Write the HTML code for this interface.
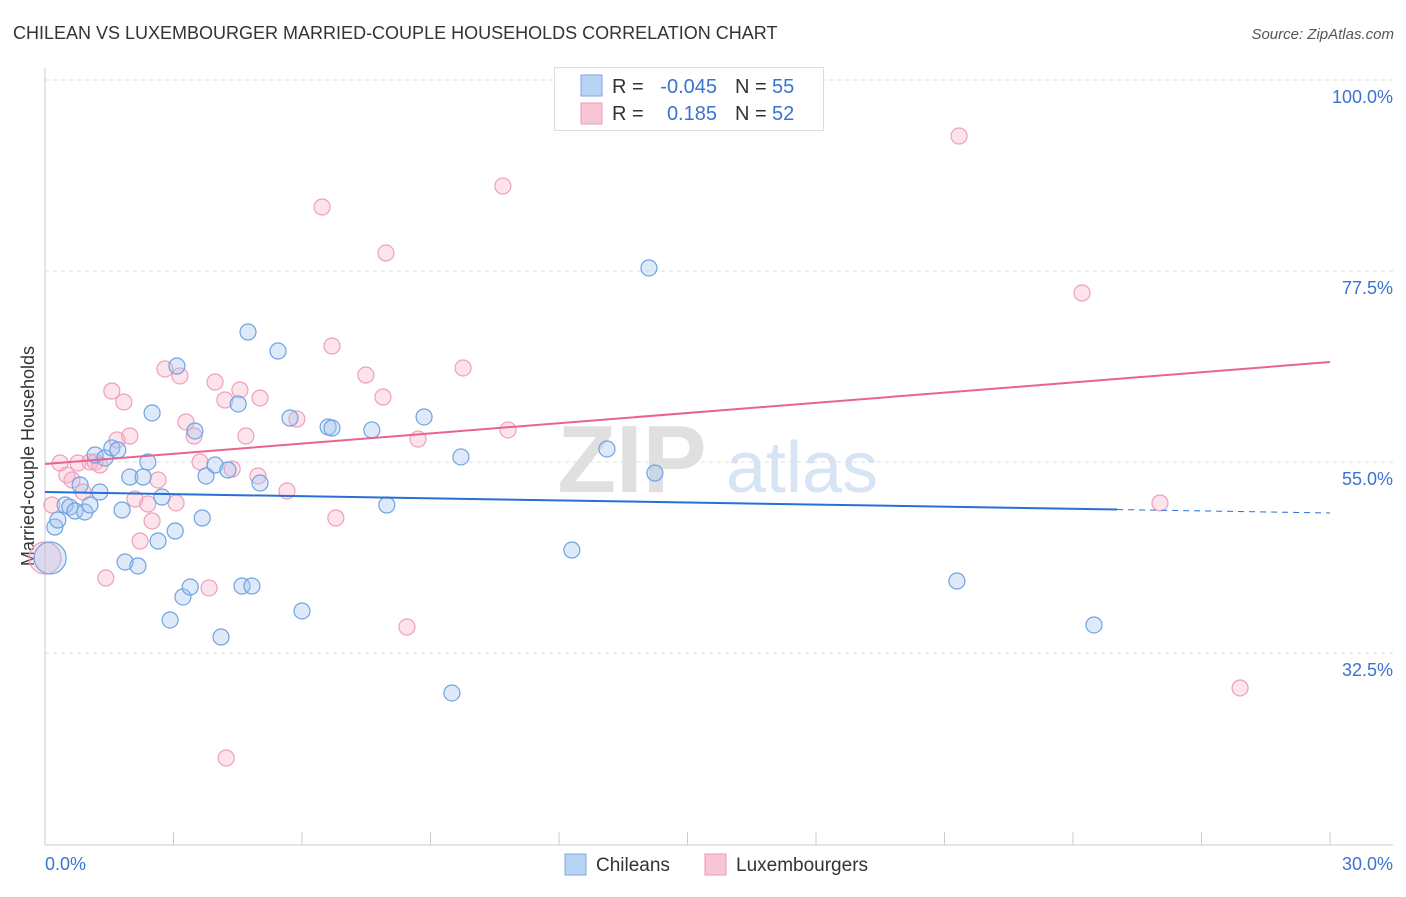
<!DOCTYPE html>
<html><head><meta charset="utf-8">
<style>
body{margin:0;background:#fff;font-family:"Liberation Sans",sans-serif;}
svg text{font-family:"Liberation Sans",sans-serif;}
</style></head>
<body>
<svg id="chart" width="1406" height="892" xmlns="http://www.w3.org/2000/svg">
<text x="13" y="39" font-size="18" fill="#333">CHILEAN VS LUXEMBOURGER MARRIED-COUPLE HOUSEHOLDS CORRELATION CHART</text>
<text x="1394" y="39" font-size="15" fill="#555" font-style="italic" text-anchor="end">Source: ZipAtlas.com</text>
<text transform="translate(34,456) rotate(-90)" font-size="18" fill="#333" text-anchor="middle">Married-couple Households</text>
<g>
<text x="632" y="492" font-size="96" fill="#e0e0e0" font-family="Liberation Serif" text-anchor="middle" font-weight="bold">ZIP</text>
<text x="802" y="492" font-size="72" fill="#d6e4f4" text-anchor="middle">atlas</text>
</g>
<g id="grid"></g>
<g id="axes"></g>
<g id="pts"></g>
<g id="lines"></g>
<g>
<rect x="554.5" y="67.5" width="269" height="63" fill="#fff" stroke="#ddd"/>
<rect x="581" y="75" width="21" height="21" fill="#b9d3f5" stroke="#7aa9e0"/>
<rect x="581" y="103" width="21" height="21" fill="#f9c6d5" stroke="#ec9ab5"/>
<text x="612" y="93" font-size="20" fill="#333">R =</text>
<text x="717" y="93" font-size="20" fill="#3a73d0" text-anchor="end">-0.045</text>
<text x="735" y="93" font-size="20" fill="#333">N =</text>
<text x="772" y="93" font-size="20" fill="#3a73d0">55</text>
<text x="612" y="120" font-size="20" fill="#333">R =</text>
<text x="717" y="120" font-size="20" fill="#3a73d0" text-anchor="end">0.185</text>
<text x="735" y="120" font-size="20" fill="#333">N =</text>
<text x="772" y="120" font-size="20" fill="#3a73d0">52</text>
</g>
<g>
<rect x="565" y="854" width="21" height="21" fill="#b9d3f5" stroke="#7aa9e0"/>
<text x="596" y="871" font-size="19" fill="#333">Chileans</text>
<rect x="705" y="854" width="21" height="21" fill="#f9c6d5" stroke="#ec9ab5"/>
<text x="736" y="871" font-size="19" fill="#333">Luxembourgers</text>
</g>
</svg>
<script>
const blueX=[0.12,0.23,0.30,0.47,0.58,0.70,0.82,0.93,1.05,1.17,1.28,1.40,1.56,1.70,1.80,1.87,1.98,2.17,2.29,2.40,2.50,2.64,2.73,2.92,3.04,3.08,3.22,3.39,3.50,3.67,3.76,3.97,4.11,4.27,4.51,4.60,4.74,4.83,5.02,5.44,5.72,6.00,6.61,6.70,7.63,7.98,8.85,9.50,9.71,12.30,13.12,14.10,14.24,21.29,24.49];
const blueY=[43.7,47.35,48.17,49.94,49.7,49.23,52.3,49.12,49.94,55.83,51.47,55.48,56.66,56.42,49.35,43.23,53.24,42.76,53.24,55.01,60.78,45.7,50.88,36.4,46.88,66.31,39.11,40.28,58.66,48.41,53.36,54.65,34.39,54.06,61.84,40.4,70.32,40.4,52.53,68.08,60.19,37.46,59.13,59.01,58.78,49.94,60.31,27.8,55.6,44.64,56.54,77.86,53.71,40.99,35.81];
const pinkX=[0,0.16,0.35,0.51,0.63,0.77,0.89,1.05,1.17,1.28,1.42,1.56,1.68,1.84,1.98,2.10,2.22,2.40,2.50,2.64,2.80,3.06,3.15,3.29,3.48,3.62,3.83,3.97,4.20,4.23,4.37,4.55,4.69,4.97,5.02,5.65,5.88,6.47,6.70,6.79,7.49,7.89,7.96,8.45,8.71,9.76,10.69,10.81,21.34,24.21,26.03,27.90];
const pinkY=[43.7,49.94,54.89,53.47,52.89,54.89,51.47,55.01,55.01,54.65,41.34,63.37,57.6,62.07,58.07,50.65,45.7,50.06,48.06,52.89,65.96,50.18,65.14,59.72,58.07,55.01,40.17,64.43,62.31,20.14,54.18,63.49,58.07,53.36,62.54,51.59,60.07,85.04,68.67,48.41,65.25,62.66,79.62,35.57,57.71,66.08,87.51,58.78,93.4,74.91,50.18,28.39];
const yTicks=[100,77.5,55,32.5];
const yTickLabels=["100.0%","77.5%","55.0%","32.5%"];
const xTickLabels=["0.0%","30.0%"];
const blueTrend=[51.47,49.0];
const pinkTrend=[54.77,66.78];
const blueSolidEnd=25.03;

const NS="http://www.w3.org/2000/svg";
const xs=v=>45+v*(1285/30);
const ys=v=>80+(100-v)*8.49;
function mk(tag,attrs,parent){const e=document.createElementNS(NS,tag);for(const k in attrs)e.setAttribute(k,attrs[k]);parent.appendChild(e);return e;}
const grid=document.getElementById('grid'),axes=document.getElementById('axes'),pts=document.getElementById('pts'),lines=document.getElementById('lines');
yTicks.forEach((t,i)=>{
  const l=mk('line',{x1:45,x2:1393,y1:ys(t),y2:ys(t),stroke:'#ddd','stroke-dasharray':'4,4'},grid);
  
  
  const tx=mk('text',{x:1393,y:ys(t)+23,'font-size':18,fill:'#3a73d0','text-anchor':'end'},axes);
  tx.textContent=yTickLabels[i];
  
  
});
const ya=mk('line',{x1:45,x2:45,y1:68,y2:845,stroke:'#ccc'},axes);


const xa=mk('line',{x1:45,x2:1393,y1:845,y2:845,stroke:'#ccc'},axes);


for(let i=0;i<=10;i++){
  const t=mk('line',{x1:xs(i*3),x2:xs(i*3),y1:832,y2:845,stroke:'#ccc'},axes);
  
  
}
const xl0=mk('text',{x:45,y:870,'font-size':18,fill:'#3a73d0'},axes);
xl0.textContent=xTickLabels[0];


const xl1=mk('text',{x:1393,y:870,'font-size':18,fill:'#3a73d0','text-anchor':'end'},axes);
xl1.textContent=xTickLabels[1];


function dots(X,Y,fill,stroke,name){
  X.forEach((v,i)=>{
    const c=mk('circle',{cx:xs(v),cy:ys(Y[i]),r:i===0?16:8,fill:fill,stroke:stroke,'stroke-width':1.2},pts);
    
    
  });
}
dots(pinkX,pinkY,'rgba(248,175,200,0.35)','#eea0ba','point-luxembourger');
dots(blueX,blueY,'rgba(160,196,240,0.35)','#6fa3e0','point-chilean');
const by=x=>blueTrend[0]+(blueTrend[1]-blueTrend[0])*x/30;
const b1=mk('line',{x1:xs(0),y1:ys(by(0)),x2:xs(blueSolidEnd),y2:ys(by(blueSolidEnd)),stroke:'#2a6fd6','stroke-width':2},lines);


const b2=mk('line',{x1:xs(blueSolidEnd),y1:ys(by(blueSolidEnd)),x2:xs(30),y2:ys(by(30)),stroke:'#2a6fd6','stroke-width':1,'stroke-dasharray':'6,5'},lines);


const p1=mk('line',{x1:xs(0),y1:ys(pinkTrend[0]),x2:xs(30),y2:ys(pinkTrend[1]),stroke:'#e8648e','stroke-width':2},lines);


</script>
</body></html>
